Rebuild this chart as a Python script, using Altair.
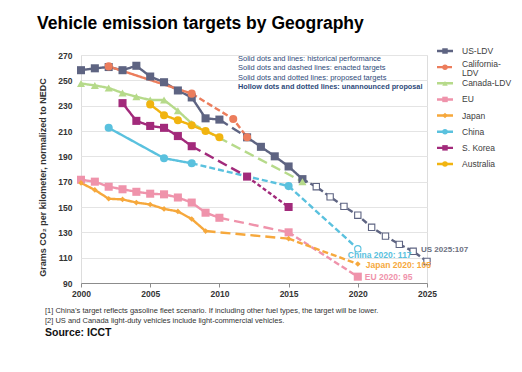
import altair as alt
import pandas as pd

# ---------------- data ----------------
SERIES = ["US-LDV", "California-LDV", "Canada-LDV", "EU", "Japan", "China", "S. Korea", "Australia"]
LEGEND_LABELS = ["US-LDV", "California-\nLDV", "Canada-LDV", "EU", "Japan", "China", "S. Korea", "Australia"]
COLORS = ["#5e6482", "#ec7d5c", "#b6da8a", "#ef93ab", "#f6a83c", "#5ac1de", "#a22a7b", "#f1b410"]
SHAPES = ["square", "circle", "triangle-up", "square", "diamond", "circle", "square", "circle"]

US_HIST_YEARS = [2000, 2001, 2002, 2003, 2004, 2005, 2006, 2007, 2008, 2009, 2010]
US_HIST_VALUES = [258, 259.5, 260.5, 258, 261.5, 253, 248.5, 242, 236.5, 220, 219]
US_ENACTED_A_YEARS = [2010, 2012]
US_ENACTED_A_VALUES = [219, 205]
US_ENACTED_B_YEARS = [2012, 2013, 2014, 2015, 2016]
US_ENACTED_B_VALUES = [205, 197.5, 190, 182, 172]
US_PROPOSAL_YEARS = [2016, 2017, 2018, 2019, 2020, 2021, 2022, 2023, 2024, 2025]
US_PROPOSAL_VALUES = [172, 166, 158, 150.5, 143.5, 134, 127, 120.5, 115, 107]

CA_HIST_YEARS = [2002, 2008]
CA_HIST_VALUES = [261, 239.5]
CA_ENACTED_YEARS = [2008, 2011, 2012]
CA_ENACTED_VALUES = [239.5, 219.5, 205]

CAN_HIST_YEARS = [2000, 2001, 2002, 2003, 2004, 2005, 2006, 2007, 2008]
CAN_HIST_VALUES = [247.5, 246, 244, 240, 237, 234.5, 234.5, 226, 216]
CAN_ENACTED_YEARS = [2008, 2016]
CAN_ENACTED_VALUES = [216, 170]

EU_HIST_YEARS = [2000, 2001, 2002, 2003, 2004, 2005, 2006, 2007, 2008, 2009, 2010]
EU_HIST_VALUES = [171.5, 170, 166, 164, 162, 160.5, 160, 157.5, 153.5, 145.5, 141.5]
EU_ENACTED_YEARS = [2010, 2015]
EU_ENACTED_VALUES = [141.5, 130]
EU_PROPOSED_YEARS = [2015, 2020]
EU_PROPOSED_VALUES = [130, 95]

JP_HIST_YEARS = [2000, 2001, 2002, 2003, 2004, 2005, 2006, 2007, 2008, 2009]
JP_HIST_VALUES = [169, 163.5, 156.5, 156, 153.5, 152, 148.5, 146.5, 140.5, 131]
JP_ENACTED_YEARS = [2009, 2015]
JP_ENACTED_VALUES = [131, 125]
JP_PROPOSED_YEARS = [2015, 2020]
JP_PROPOSED_VALUES = [125, 105]

CN_HIST_YEARS = [2002, 2006, 2008]
CN_HIST_VALUES = [212.5, 188.5, 184.5]
CN_ENACTED_YEARS = [2008, 2015]
CN_ENACTED_VALUES = [184.5, 166.5]
CN_PROPOSED_YEARS = [2015, 2020]
CN_PROPOSED_VALUES = [166.5, 117]

KR_HIST_YEARS = [2003, 2004, 2005, 2006, 2007, 2008]
KR_HIST_VALUES = [232, 218, 214, 212.5, 206, 198]
KR_ENACTED_YEARS = [2008, 2012]
KR_ENACTED_VALUES = [198, 174]
KR_PROPOSED_YEARS = [2012, 2015]
KR_PROPOSED_VALUES = [174, 150]

AU_HIST_YEARS = [2005, 2006, 2007, 2008, 2009, 2010]
AU_HIST_VALUES = [231, 222.5, 218.5, 214.5, 210, 205]

X_TICKS = [2000, 2005, 2010, 2015, 2020, 2025]
Y_TICKS = [90, 110, 130, 150, 170, 190, 210, 230, 250, 270]

BOX_LINES = [
    "Solid dots and lines: historical performance",
    "Solid dots and dashed lines: enacted targets",
    "Solid dots and dotted lines: proposed targets",
]
BOX_LAST = "Hollow dots and dotted lines: unannounced proposal"
FOOTNOTES = [
    "[1] China\u2019s target reflects gasoline fleet scenario. If including other fuel types, the target will be lower.",
    "[2] US and Canada light-duty vehicles include light-commercial vehicles.",
]

# (series, line style, years, values, which points get markers)
SEGMENTS = [
    ("US-LDV", "solid", US_HIST_YEARS, US_HIST_VALUES, "all"),
    ("US-LDV", "long", US_ENACTED_A_YEARS, US_ENACTED_A_VALUES, "all"),
    ("US-LDV", "solid", US_ENACTED_B_YEARS, US_ENACTED_B_VALUES, "all"),
    ("US-LDV", "medium", US_PROPOSAL_YEARS, US_PROPOSAL_VALUES, "hollow"),
    ("California-LDV", "solid", CA_HIST_YEARS, CA_HIST_VALUES, "ends"),
    ("California-LDV", "medium", CA_ENACTED_YEARS, CA_ENACTED_VALUES, "all"),
    ("Canada-LDV", "solid", CAN_HIST_YEARS, CAN_HIST_VALUES, "all"),
    ("Canada-LDV", "long", CAN_ENACTED_YEARS, CAN_ENACTED_VALUES, "last"),
    ("EU", "solid", EU_HIST_YEARS, EU_HIST_VALUES, "all"),
    ("EU", "long", EU_ENACTED_YEARS, EU_ENACTED_VALUES, "last"),
    ("EU", "medium", EU_PROPOSED_YEARS, EU_PROPOSED_VALUES, "last"),
    ("Japan", "solid", JP_HIST_YEARS, JP_HIST_VALUES, "all"),
    ("Japan", "long", JP_ENACTED_YEARS, JP_ENACTED_VALUES, "last"),
    ("Japan", "medium", JP_PROPOSED_YEARS, JP_PROPOSED_VALUES, "last"),
    ("China", "solid", CN_HIST_YEARS, CN_HIST_VALUES, "all"),
    ("China", "medium", CN_ENACTED_YEARS, CN_ENACTED_VALUES, "last"),
    ("China", "medium", CN_PROPOSED_YEARS, CN_PROPOSED_VALUES, "hollow"),
    ("S. Korea", "solid", KR_HIST_YEARS, KR_HIST_VALUES, "all"),
    ("S. Korea", "long", KR_ENACTED_YEARS, KR_ENACTED_VALUES, "last"),
    ("S. Korea", "short", KR_PROPOSED_YEARS, KR_PROPOSED_VALUES, "last"),
    ("Australia", "solid", AU_HIST_YEARS, AU_HIST_VALUES, "all"),
]

line_rows, pt_rows = [], []
for i, (s, style, ys, vs, mk) in enumerate(SEGMENTS):
    for y, v in zip(ys, vs):
        line_rows.append(dict(series=s, seg=f"{s}-{i}", style=style, year=y, value=v))
    n = len(ys)
    if mk == "all":
        idx, hollow = range(n), False
    elif mk == "last":
        idx, hollow = [n - 1], False
    elif mk == "ends":
        idx, hollow = [0, n - 1], False
    else:
        idx, hollow = range(1, n), True
    for k in idx:
        pt_rows.append(dict(series=s, year=ys[k], value=vs[k], hollow=hollow))

lines_df = pd.DataFrame(line_rows)
pts_df = pd.DataFrame(pt_rows).drop_duplicates(subset=["series", "year"], keep="last")
pts_df["order"] = pts_df["series"].map({s: i for i, s in enumerate(SERIES)})
pts_df = pts_df.sort_values("order")

legend_df = pd.DataFrame({
    "series": SERIES,
    "label": LEGEND_LABELS,
    "row": list(range(len(SERIES))),
    "style": ["solid", "medium", "solid", "solid", "solid", "solid", "solid", "solid"],
})

# ---------------- encodings ----------------
color_scale = alt.Scale(domain=SERIES, range=COLORS)
shape_scale = alt.Scale(domain=SERIES, range=SHAPES)
dash_scale = alt.Scale(domain=["solid", "long", "medium", "short"],
                       range=[[1, 0], [10, 5], [6, 3], [4, 2.5]])

x_enc = alt.X("year:Q", scale=alt.Scale(domain=[2000, 2025], nice=False, zero=False),
              axis=alt.Axis(values=X_TICKS, format="d", title=None, grid=False, labelFlush=False,
                            domainColor="#8c8c8c", tickColor="#8c8c8c", tickSize=4,
                            labelFontWeight="bold", labelFontSize=8.5, labelColor="#333333",
                            labelPadding=2))
y_enc = alt.Y("value:Q", scale=alt.Scale(domain=[90, 270], nice=False, zero=False),
              axis=alt.Axis(values=Y_TICKS, title="Grams CO\u2082 per kilometer, normalized to NEDC",
                            domain=False, ticks=False, grid=True, gridColor="#e4e4e4",
                            labelFontWeight="bold", labelFontSize=8.5, labelColor="#333333",
                            labelPadding=9, titleFontSize=9, titleFontWeight="bold",
                            titleColor="#333333", titlePadding=10, titleY=122))
color_enc = alt.Color("series:N", scale=color_scale, legend=None)
shape_enc = alt.Shape("series:N", scale=shape_scale, legend=None)

lines = alt.Chart(lines_df).mark_line(strokeWidth=2.4).encode(
    x=x_enc, y=y_enc, color=color_enc,
    strokeDash=alt.StrokeDash("style:N", scale=dash_scale, legend=None),
    detail="seg:N", order="year:Q",
)

filled = pts_df[~pts_df["hollow"]]
points_big = alt.Chart(filled[filled["series"] != "Japan"]).mark_point(
    filled=True, opacity=1, size=65).encode(x=x_enc, y=y_enc, color=color_enc, shape=shape_enc)
points_jp = alt.Chart(filled[filled["series"] == "Japan"]).mark_point(
    filled=True, opacity=1, size=32).encode(x=x_enc, y=y_enc, color=color_enc, shape=shape_enc)
points_hollow = alt.Chart(pts_df[pts_df["hollow"]]).mark_point(
    filled=True, fill="white", opacity=1, size=40, strokeWidth=1.1).encode(
    x=x_enc, y=y_enc, shape=shape_enc,
    stroke=alt.Stroke("series:N", scale=color_scale, legend=None))


def end_label(series, year, text, color, dx, dy, size=8.5):
    row = [r for r in line_rows if r["series"] == series and r["year"] == year][0]
    df = pd.DataFrame([dict(year=year, value=row["value"], t=text)])
    return alt.Chart(df).mark_text(align="left", baseline="middle", dx=dx, dy=dy,
                                   fontSize=size, fontWeight="bold", color=color).encode(
        x=x_enc, y=y_enc, text="t:N")


labels = [
    end_label("China", 2020, "China 2020: 117", COLORS[5], -10, 6),
    end_label("Japan", 2020, "Japan 2020: 105", COLORS[4], 8, 1),
    end_label("EU", 2020, "EU 2020: 95", COLORS[3], 7, 0),
    end_label("US-LDV", 2025, "US 2025:107", "#6b7080", -6, -11, 8),
]

main = alt.layer(lines, points_big, points_jp, points_hollow, *labels)

# ---------------- legend (own y scale) ----------------
leg_y = alt.Y("row:Q", scale=alt.Scale(domain=[0, 7], range=[-4, 109]), axis=None)
leg_line = alt.Chart(legend_df).mark_rule(strokeWidth=2.4).encode(
    x=alt.value(356), x2=alt.value(372), y=leg_y, color=color_enc,
    strokeDash=alt.StrokeDash("style:N", scale=dash_scale, legend=None))
leg_pts = alt.Chart(legend_df).mark_point(filled=True, opacity=1, size=30).encode(
    x=alt.value(364), y=leg_y, color=color_enc, shape=shape_enc)
leg_txt = alt.Chart(legend_df[legend_df["series"] != "California-LDV"]).mark_text(
    align="left", baseline="middle", fontSize=8.5, color="#404040").encode(
    x=alt.value(381), y=leg_y, text="label:N")
leg_txt_ca = alt.Chart(legend_df[legend_df["series"] == "California-LDV"]).mark_text(
    align="left", baseline="top", dy=-7, fontSize=8.5, color="#404040",
    lineBreak="\n", lineHeight=9).encode(
    x=alt.value(381), y=leg_y, text="label:N")
legend = alt.layer(leg_line, leg_pts, leg_txt, leg_txt_ca)

# ---------------- static text ----------------
one = pd.DataFrame({"a": [0]})
title = alt.Chart(one).mark_text(text="Vehicle emission targets by Geography", align="left",
                                 baseline="alphabetic", fontSize=17.5, fontWeight="bold",
                                 color="#000000").encode(x=alt.value(-44), y=alt.value(-26))
box = alt.Chart(one).mark_text(text=BOX_LINES, align="left", baseline="top", fontSize=7.5,
                               color="#2e4a7a", lineHeight=9.3).encode(
    x=alt.value(157), y=alt.value(0))
box2 = alt.Chart(one).mark_text(text=BOX_LAST, align="left", baseline="top", fontSize=7.3,
                                fontWeight="bold", color="#2e4a7a").encode(
    x=alt.value(157), y=alt.value(27.9))
foot = alt.Chart(one).mark_text(text=FOOTNOTES, align="left", baseline="middle", fontSize=7.5,
                                color="#333333", lineHeight=9.5).encode(
    x=alt.value(-36), y=alt.value(256))
source = alt.Chart(one).mark_text(text="Source: ICCT", align="left", baseline="middle",
                                  fontSize=10.5, fontWeight="bold", color="#111111").encode(
    x=alt.value(-36), y=alt.value(278))

chart = alt.layer(main, legend, title, box, box2, foot, source).resolve_scale(
    y="independent"
).properties(
    width=346, height=228,
    autosize=alt.AutoSizeParams(type="none"),
    padding={"left": 73, "top": 47, "right": 85, "bottom": 81},
    background="white",
).configure_view(stroke=None).configure(font="Liberation Sans")

chart.save("out.html", embed_options={"renderer": "svg", "actions": False})
